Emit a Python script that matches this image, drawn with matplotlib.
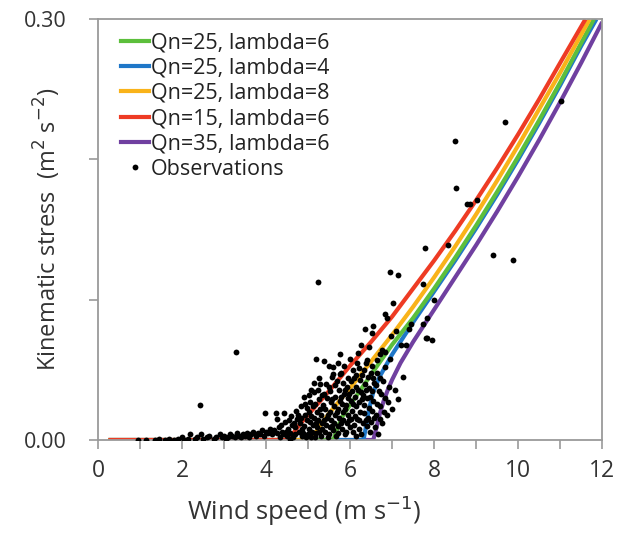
import matplotlib
matplotlib.use("Agg")
import matplotlib.pyplot as plt
from matplotlib.lines import Line2D

plt.rcParams['font.family'] = ['Open Sans', 'DejaVu Sans']

# ---- model curves (wind speed, kinematic stress) ----
red_x = [0.25, 4.55, 4.65, 4.8, 5.0, 5.5, 6.0, 6.5, 7.0, 7.5, 8.0, 8.5, 9.0, 9.5, 10.0, 10.5, 11.0, 11.6]
red_y = [0.0, 0.0, 0.005, 0.011, 0.018, 0.035, 0.053, 0.070, 0.088, 0.108, 0.128, 0.149, 0.171, 0.194, 0.218, 0.243, 0.269, 0.300]

orange_x = [0.25, 5.07, 5.15, 5.3, 5.5, 6.0, 6.5, 7.0, 7.5, 8.0, 8.5, 9.0, 9.5, 10.0, 10.5, 11.0, 11.7]
orange_y = [0.0, 0.0, 0.004, 0.011, 0.019, 0.037, 0.056, 0.075, 0.095, 0.116, 0.138, 0.161, 0.185, 0.210, 0.236, 0.262, 0.300]

green_x = [0.25, 5.6, 5.68, 5.8, 6.0, 6.3, 6.6, 7.0, 7.5, 8.0, 8.5, 9.0, 9.5, 10.0, 10.5, 11.0, 11.8]
green_y = [0.0, 0.0, 0.007, 0.016, 0.025, 0.038, 0.051, 0.068, 0.087, 0.108, 0.130, 0.153, 0.177, 0.202, 0.228, 0.255, 0.300]

blue_x = [0.25, 6.32, 6.38, 6.45, 6.55, 6.7, 7.0, 7.5, 8.0, 8.5, 9.0, 9.5, 10.0, 10.5, 11.0, 11.5, 11.86]
blue_y = [0.0, 0.0, 0.010, 0.022, 0.034, 0.045, 0.061, 0.084, 0.106, 0.128, 0.151, 0.175, 0.200, 0.226, 0.253, 0.281, 0.300]

purple_x = [0.25, 6.55, 6.62, 6.7, 6.8, 6.9, 7.0, 7.2, 7.5, 8.0, 8.5, 9.0, 9.5, 10.0, 10.5, 11.0, 11.5, 12.0]
purple_y = [0.0, 0.0, 0.008, 0.018, 0.028, 0.036, 0.043, 0.055, 0.070, 0.093, 0.116, 0.139, 0.163, 0.188, 0.214, 0.241, 0.269, 0.298]

series_labels = ["Qn=25, lambda=6", "Qn=25, lambda=4", "Qn=25, lambda=8",
                 "Qn=15, lambda=6", "Qn=35, lambda=6"]
series_colors = ["#5cbf3c", "#1f77c8", "#f9b31a", "#ee3b24", "#7040a0"]

# ---- observations ----
obs_points = [
    # low winds, near zero stress
    (0.95, 0.000), (1.15, 0.000), (1.35, 0.000), (1.45, 0.001), (1.60, 0.000), (1.70, 0.001),
    (1.80, 0.000), (1.90, 0.001), (2.00, 0.002), (2.05, 0.000), (2.15, 0.001), (2.20, 0.004),
    (2.30, 0.001), (2.35, 0.002), (2.42, 0.025), (2.45, 0.004), (2.50, 0.001), (2.60, 0.002),
    (2.65, 0.003), (2.75, 0.001), (2.80, 0.002), (2.90, 0.004), (2.95, 0.002), (3.00, 0.003),
    (3.05, 0.001), (3.10, 0.002), (3.15, 0.004), (3.20, 0.003), (3.25, 0.002), (3.28, 0.063),
    (3.30, 0.005), (3.35, 0.003), (3.40, 0.002), (3.45, 0.004), (3.50, 0.003), (3.55, 0.005),
    (3.60, 0.002), (3.65, 0.004), (3.70, 0.006), (3.75, 0.003), (3.80, 0.005), (3.85, 0.004),
    (3.90, 0.007), (3.95, 0.003), (3.97, 0.019), (4.00, 0.006), (4.05, 0.005), (4.10, 0.008),
    (4.15, 0.004), (4.20, 0.007), (4.23, 0.019), (4.25, 0.005), (4.30, 0.009), (4.27, 0.015),
    # transition cluster
    (4.32, 0.002), (4.35, 0.011), (4.38, 0.006), (4.42, 0.004), (4.44, 0.013), (4.43, 0.019),
    (4.50, 0.003), (4.52, 0.008), (4.55, 0.014), (4.58, 0.005), (4.61, 0.011), (4.60, 0.017),
    (4.63, 0.002), (4.68, 0.004), (4.70, 0.009), (4.73, 0.015), (4.72, 0.021), (4.78, 0.006),
    (4.80, 0.012), (4.83, 0.016), (4.85, 0.003), (4.82, 0.024), (4.88, 0.005), (4.90, 0.010),
    (4.93, 0.018), (4.90, 0.031), (4.95, 0.002), (5.00, 0.004), (5.02, 0.008), (5.04, 0.013),
    (5.01, 0.020), (5.05, 0.027), (5.08, 0.036), (5.10, 0.006), (5.12, 0.011), (5.14, 0.016),
    (5.11, 0.024), (5.15, 0.034), (5.17, 0.002), (5.19, 0.058), (5.20, 0.005), (5.22, 0.009),
    (5.24, 0.014), (5.21, 0.020), (5.25, 0.029), (5.23, 0.036), (5.26, 0.044), (5.30, 0.003),
    (5.32, 0.008), (5.34, 0.012), (5.31, 0.018), (5.35, 0.025), (5.33, 0.032), (5.38, 0.056),
    (5.40, 0.006), (5.42, 0.011), (5.44, 0.016), (5.41, 0.022), (5.45, 0.030), (5.43, 0.040),
    (5.50, 0.004), (5.52, 0.009), (5.54, 0.014), (5.51, 0.020), (5.55, 0.027), (5.53, 0.035),
    (5.56, 0.045), (5.50, 0.053), (5.60, 0.007), (5.62, 0.012), (5.64, 0.018), (5.61, 0.024),
    (5.65, 0.031), (5.63, 0.039), (5.60, 0.052), (5.70, 0.005), (5.72, 0.010), (5.74, 0.016),
    (5.71, 0.022), (5.75, 0.028), (5.73, 0.036), (5.76, 0.047), (5.70, 0.055), (5.80, 0.008),
    (5.82, 0.014), (5.84, 0.020), (5.81, 0.026), (5.85, 0.033), (5.83, 0.041), (5.79, 0.048),
    (5.77, 0.061), (5.90, 0.006), (5.92, 0.012), (5.94, 0.018), (5.91, 0.025), (5.95, 0.030),
    (5.93, 0.038), (5.96, 0.044), (5.86, 0.053), (6.00, 0.009), (6.02, 0.015), (6.04, 0.021),
    (6.01, 0.028), (6.05, 0.035), (6.03, 0.042), (6.06, 0.050), (6.10, 0.011), (6.12, 0.017),
    (6.14, 0.024), (6.11, 0.031), (6.15, 0.038), (6.13, 0.046), (6.16, 0.055), (6.20, 0.008),
    (6.22, 0.014), (6.24, 0.020), (6.21, 0.027), (6.25, 0.034), (6.23, 0.043), (6.22, 0.051),
    (6.26, 0.068), (6.30, 0.012), (6.32, 0.019), (6.34, 0.025), (6.31, 0.032), (6.35, 0.040),
    (6.32, 0.050), (6.36, 0.079), (6.40, 0.010), (6.42, 0.016), (6.44, 0.023), (6.41, 0.030),
    (6.45, 0.037), (6.43, 0.045), (6.41, 0.057), (6.46, 0.066), (6.50, 0.013), (6.52, 0.021),
    (6.54, 0.028), (6.51, 0.035), (6.55, 0.044), (6.53, 0.053), (6.53, 0.076), (6.55, 0.081),
    (6.60, 0.009), (6.62, 0.018), (6.64, 0.026), (6.61, 0.039), (6.65, 0.048), (6.63, 0.057),
    (6.70, 0.015), (6.72, 0.024), (6.74, 0.033), (6.71, 0.044), (6.70, 0.061), (6.75, 0.064),
    (6.80, 0.020), (6.82, 0.030), (6.83, 0.052), (6.82, 0.063), (6.84, 0.090), (6.87, 0.087),
    (6.90, 0.027), (6.92, 0.038), (6.94, 0.058), (6.97, 0.074), (6.96, 0.120), (7.01, 0.098),
    (7.06, 0.036), (7.10, 0.078), (7.13, 0.118), (7.15, 0.029), (7.22, 0.068), (7.25, 0.045),
    (7.32, 0.068), (7.39, 0.079), (7.46, 0.083), (7.73, 0.083), (7.73, 0.111), (7.78, 0.137),
    (7.80, 0.073), (7.82, 0.087), (7.82, 0.073), (7.94, 0.071), (7.99, 0.100), (8.33, 0.139),
    (8.49, 0.213), (8.52, 0.180), (8.78, 0.168), (8.85, 0.168), (9.02, 0.171), (9.40, 0.132),
    (9.69, 0.227), (9.88, 0.128), (11.03, 0.242), (5.24, 0.113),
    # extra points filling the dense cluster
    (4.47, 0.006), (4.57, 0.001), (4.66, 0.012), (4.76, 0.018), (4.86, 0.008), (4.97, 0.014),
    (4.98, 0.023), (5.06, 0.002), (5.07, 0.017), (5.16, 0.026), (5.18, 0.012), (5.27, 0.006),
    (5.28, 0.022), (5.29, 0.040), (5.37, 0.014), (5.39, 0.033), (5.47, 0.002), (5.48, 0.018),
    (5.49, 0.038), (5.57, 0.010), (5.58, 0.029), (5.59, 0.047), (5.67, 0.003), (5.68, 0.020),
    (5.69, 0.042), (5.78, 0.012), (5.78, 0.031), (5.87, 0.004), (5.88, 0.022), (5.89, 0.036),
    (5.97, 0.014), (5.98, 0.033), (5.99, 0.058), (6.07, 0.006), (6.08, 0.026), (6.09, 0.044),
    (6.17, 0.015), (6.18, 0.036), (6.19, 0.062), (6.27, 0.004), (6.28, 0.029), (6.29, 0.046),
    (6.37, 0.014), (6.38, 0.036), (6.39, 0.055), (6.47, 0.006), (6.48, 0.031), (6.49, 0.048),
    (6.57, 0.016), (6.58, 0.041), (6.67, 0.004), (6.68, 0.035), (6.77, 0.012), (6.78, 0.042),
    (6.88, 0.018), (6.99, 0.022), (6.15, 0.003), (5.02, 0.032), (4.92, 0.026), (5.13, 0.041),
]
obs_speed = [p[0] for p in obs_points]
obs_stress = [p[1] for p in obs_points]

curves_x = [green_x, blue_x, orange_x, red_x, purple_x]
curves_y = [green_y, blue_y, orange_y, red_y, purple_y]

fig = plt.figure(figsize=(6.28, 5.34), dpi=100)
ax = fig.add_axes([0.156, 0.176, 0.803, 0.788])

order = [4, 1, 0, 2, 3]
for i in order:
    ax.plot(curves_x[i], curves_y[i], color=series_colors[i], lw=3.0,
            solid_capstyle='butt', solid_joinstyle='round', zorder=2)
ax.plot(obs_speed, obs_stress, 'o', color='black', ms=4.2, mec='none', zorder=3)

ax.set_xlim(0, 12)
ax.set_ylim(0, 0.30)
ax.set_xticks(range(0, 13))
ax.set_xticklabels([str(v) if v % 2 == 0 else '' for v in range(0, 13)])
ax.set_yticks([0.0, 0.1, 0.2, 0.3])
ax.set_yticklabels(['0.00', '', '', '0.30'])

gray = '#9a9a9a'
for s in ax.spines.values():
    s.set_color(gray)
    s.set_linewidth(1.3)
ax.tick_params(axis='both', direction='out', length=6.5, width=1.2, color=gray,
               labelcolor='#333333')
ax.tick_params(axis='x', pad=7, labelsize=16.5)
ax.tick_params(axis='y', pad=16, labelsize=15.5)

ax.set_xlabel('Wind speed (m s$^{-1}$)', fontsize=18.5, color='#333333')
ax.xaxis.set_label_coords(0.41, -0.128)
ax.set_ylabel('Kinematic stress  (m$^{2}$ s$^{-2}$)', fontsize=17, color='#333333')
ax.yaxis.set_label_coords(-0.07, 0.50)

handles = [Line2D([0], [0], color=c, lw=3) for c in series_colors]
handles.append(Line2D([0], [0], marker='o', color='black', ls='none', ms=4.2, mec='none'))
labels = series_labels + ["Observations"]
leg = ax.legend(handles, labels, loc='upper left', frameon=False, fontsize=15.5,
                handlelength=1.3, handletextpad=0.1, labelspacing=0.2,
                borderaxespad=0.2, bbox_to_anchor=(0.02, 1.0))
for t in leg.get_texts():
    t.set_color('#222222')

fig.savefig('out.png', dpi=100)
